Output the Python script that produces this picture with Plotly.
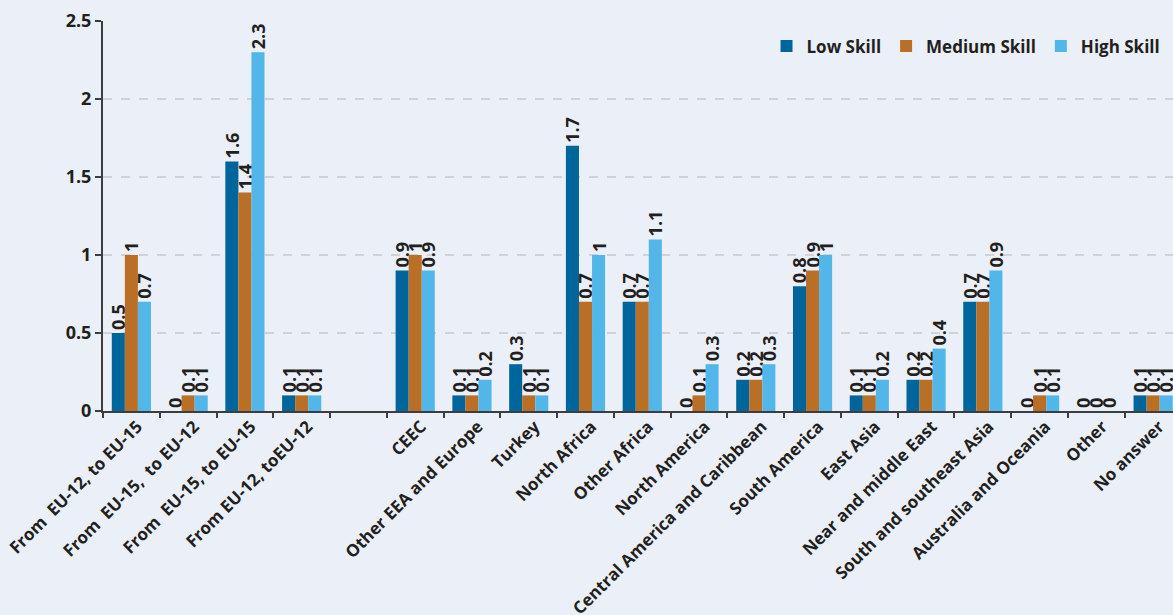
import plotly.graph_objects as go

# Origin / destination groups (one empty slot separates the intra-EU flows)
categories = [
    "From  EU-12, to EU-15",
    "From  EU-15,  to EU-12",
    "From  EU-15, to EU-15",
    "From EU-12, toEU-12",
    " ",
    "CEEC",
    "Other EEA and Europe",
    "Turkey",
    "North Africa",
    "Other Africa",
    "North America",
    "Central America and Caribbean",
    "South America",
    "East Asia",
    "Near and middle East",
    "South and southeast Asia",
    "Australia and Oceania",
    "Other",
    "No answer",
]

low_skill = [0.5, 0, 1.6, 0.1, None, 0.9, 0.1, 0.3, 1.7, 0.7, 0, 0.2, 0.8, 0.1, 0.2, 0.7, 0, 0, 0.1]
medium_skill = [1, 0.1, 1.4, 0.1, None, 1, 0.1, 0.1, 0.7, 0.7, 0.1, 0.2, 0.9, 0.1, 0.2, 0.7, 0.1, 0, 0.1]
high_skill = [0.7, 0.1, 2.3, 0.1, None, 0.9, 0.2, 0.1, 1, 1.1, 0.3, 0.3, 1, 0.2, 0.4, 0.9, 0.1, 0, 0.1]

y_ticks = [0, 0.5, 1, 1.5, 2, 2.5]
y_tick_labels = ["0", "0.5", "1", "1.5", "2", "2.5"]

series = [
    ("Low Skill", low_skill, "#00659a"),
    ("Medium Skill", medium_skill, "#b96f26"),
    ("High Skill", high_skill, "#52b7e8"),
]

FONT = "Open Sans"
TEXT_COLOR = "#231f20"
BG = "#eaeff8"


def fmt(v):
    return "" if v is None else f"{v:g}"


fig = go.Figure()
for name, values, color in series:
    fig.add_trace(
        go.Bar(
            name=name,
            x=categories,
            y=values,
            marker=dict(color=color, line=dict(width=0)),
            text=[fmt(v) for v in values],
            textposition="outside",
            textangle=-90,
            constraintext="none",
            cliponaxis=False,
            textfont=dict(family=FONT, size=18, color=TEXT_COLOR, weight="bold"),
        )
    )

fig.update_layout(
    width=1173,
    height=615,
    margin=dict(l=103, r=0, t=21, b=204, autoexpand=False),
    paper_bgcolor=BG,
    plot_bgcolor=BG,
    barmode="group",
    bargap=0.31,
    bargroupgap=0,
    font=dict(family=FONT, color=TEXT_COLOR),
    legend=dict(
        orientation="h",
        x=0.993,
        y=0.935,
        xanchor="right",
        yanchor="middle",
        bgcolor="rgba(0,0,0,0)",
        font=dict(family=FONT, size=17, color=TEXT_COLOR, weight="bold"),
        itemwidth=30,
        traceorder="normal",
    ),
    showlegend=True,
)

fig.update_xaxes(
    type="category",
    categoryorder="array",
    categoryarray=categories,
    range=[-0.5, 18.35],
    automargin=False,
    tickangle=-45,
    ticklabelshift=6,
    ticklabelstandoff=-3,
    tickfont=dict(family=FONT, size=17, color=TEXT_COLOR, weight="bold"),
    showline=True,
    linecolor="#3d3d3f",
    linewidth=2,
    ticks="outside",
    tickson="boundaries",
    ticklen=5,
    tickwidth=1.5,
    tickcolor="#3d3d3f",
    showgrid=False,
    zeroline=False,
)

fig.update_yaxes(
    range=[0, 2.5],
    automargin=False,
    tickvals=y_ticks,
    ticktext=y_tick_labels,
    tickfont=dict(family=FONT, size=18, color=TEXT_COLOR, weight="bold"),
    showline=True,
    linecolor="#3d3d3f",
    linewidth=2,
    ticks="outside",
    ticklen=6,
    tickwidth=1.5,
    tickcolor="#3d3d3f",
    showgrid=True,
    gridcolor="#cfd2d6",
    gridwidth=1.5,
    griddash="dash",
    zeroline=False,
)

fig.write_html("out.html")
